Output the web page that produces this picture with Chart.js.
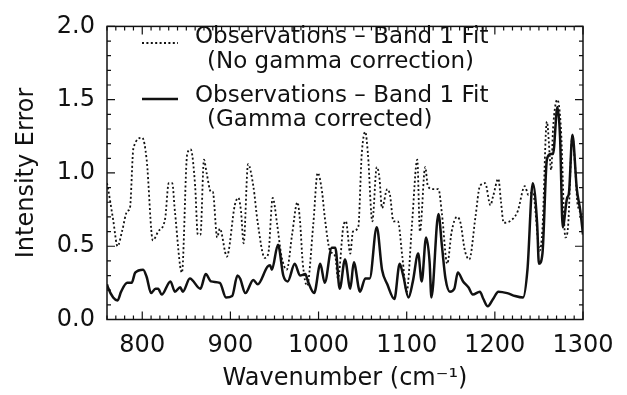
<!DOCTYPE html>
<html>
<head>
<meta charset="utf-8">
<script src="https://cdn.jsdelivr.net/npm/chart.js@4/dist/chart.umd.min.js"></script>
<style>
  html, body { margin: 0; padding: 0; background: #fff; }
  #wrap { width: 627px; height: 395px; }
</style>
</head>
<body>
<div id="wrap"><canvas id="c" width="627" height="395"></canvas></div>
<script>
// Residuals between observations and the Band 1 fit, without gamma correction
const noGammaWavenumber = [
  760, 761, 767, 772, 777, 783, 786, 790, 800, 805, 812, 818, 826, 830, 834, 837,
  845, 851, 855, 860, 863, 866, 870, 873, 878, 880, 885, 888, 896, 905, 909, 912,
  915, 920, 926, 931, 939, 943, 948, 953, 958, 964, 970, 976, 979, 982, 987, 994,
  999, 1004, 1007, 1013, 1019, 1022, 1028, 1031, 1036, 1039, 1045, 1049, 1053, 1056,
  1061, 1066, 1069, 1072, 1078, 1081, 1085, 1090, 1095, 1100, 1106, 1112, 1115, 1121,
  1124, 1130, 1136, 1140, 1146, 1151, 1157, 1161, 1166, 1171, 1178, 1183, 1189, 1195,
  1198, 1204, 1207, 1210, 1221, 1226, 1234, 1238, 1243, 1251, 1254, 1259, 1264, 1266,
  1271, 1275, 1280, 1283, 1288, 1291, 1294, 1300
];
const noGammaError = [
  0.93, 0.90, 0.68, 0.50, 0.60, 0.74, 0.76, 1.17, 1.24, 1.09, 0.54, 0.60, 0.69, 0.93, 0.93, 0.74,
  0.32, 1.13, 1.16, 0.91, 0.58, 0.58, 1.09, 1.00, 0.87, 0.87, 0.56, 0.62, 0.43, 0.78, 0.83, 0.74,
  0.52, 1.06, 0.91, 0.66, 0.42, 0.45, 0.83, 0.65, 0.43, 0.34, 0.58, 0.80, 0.67, 0.39, 0.23, 0.65,
  1.00, 0.87, 0.70, 0.47, 0.43, 0.28, 0.63, 0.67, 0.45, 0.60, 0.63, 1.13, 1.28, 1.13,
  0.67, 1.04, 0.97, 0.76, 0.89, 0.85, 0.67, 0.67, 0.43, 0.19, 0.65, 1.09, 0.60, 1.04,
  0.91, 0.89, 0.89, 0.72, 0.38, 0.60, 0.70, 0.66, 0.47, 0.41, 0.70, 0.91, 0.93, 0.78,
  0.84, 0.96, 0.80, 0.66, 0.69, 0.74, 0.91, 0.85, 0.87, 0.47, 0.62, 1.35, 1.02, 1.30,
  1.50, 1.30, 0.56, 0.63, 1.26, 1.05, 0.78, 0.72
];

// Residuals between observations and the Band 1 fit, gamma corrected
const gammaWavenumber = [
  760, 761, 767, 772, 776, 783, 788, 792, 801, 805, 810, 815, 818, 822, 832, 837,
  843, 846, 854, 866, 872, 878, 888, 895, 902, 908, 911, 917, 926, 931, 942, 945,
  947, 954, 960, 965, 973, 979, 985, 988, 995, 1002, 1007, 1015, 1019, 1024, 1030, 1036,
  1040, 1047, 1053, 1058, 1066, 1072, 1078, 1086, 1092, 1096, 1102, 1107, 1113, 1117,
  1122, 1126, 1128, 1136, 1140, 1144, 1149, 1154, 1158, 1164, 1170, 1175, 1183, 1187,
  1192, 1198, 1204, 1214, 1223, 1232, 1237, 1243, 1248, 1250, 1254, 1259, 1263, 1266,
  1271, 1274, 1277, 1282, 1284, 1288, 1293, 1297, 1300
];
const gammaError = [
  0.24, 0.22, 0.15, 0.13, 0.19, 0.25, 0.25, 0.32, 0.34, 0.29, 0.18, 0.21, 0.21, 0.17, 0.26, 0.19,
  0.22, 0.19, 0.28, 0.21, 0.31, 0.26, 0.25, 0.15, 0.16, 0.30, 0.28, 0.18, 0.27, 0.24, 0.36, 0.37,
  0.34, 0.51, 0.30, 0.26, 0.38, 0.30, 0.31, 0.26, 0.18, 0.38, 0.25, 0.49, 0.49, 0.21, 0.41, 0.21,
  0.39, 0.19, 0.28, 0.28, 0.63, 0.34, 0.24, 0.14, 0.38, 0.30, 0.15, 0.26, 0.45, 0.26,
  0.56, 0.39, 0.15, 0.72, 0.50, 0.28, 0.19, 0.21, 0.32, 0.26, 0.22, 0.17, 0.19, 0.14,
  0.09, 0.14, 0.19, 0.18, 0.16, 0.15, 0.34, 0.93, 0.65, 0.38, 0.45, 1.09, 1.13, 1.13,
  1.45, 1.24, 0.63, 0.83, 0.86, 1.26, 0.89, 0.74, 0.58
];

const noGammaLabel = ['Observations \u2013 Band 1 Fit', '(No gamma correction)'];
const gammaLabel = ['Observations \u2013 Band 1 Fit', '(Gamma corrected)'];

const xTickValues = [800, 900, 1000, 1100, 1200, 1300];
const yTickValues = [0.0, 0.5, 1.0, 1.5, 2.0];

const FONT = 'DejaVu Sans';
const INK = '#111';
const DOT_DASH = [2, 2.4];

function toPoints(xs, ys) {
  return xs.map((x, i) => ({ x: x, y: ys[i] }));
}

// Box frame with inward major/minor ticks on all four sides
const frameTicks = {
  id: 'frameTicks',
  afterDatasetsDraw(chart) {
    const { ctx, chartArea: a, scales: { x, y } } = chart;
    ctx.save();
    ctx.strokeStyle = INK;
    ctx.lineWidth = 1.5;
    ctx.strokeRect(a.left, a.top, a.right - a.left, a.bottom - a.top);
    ctx.lineWidth = 1.2;
    ctx.beginPath();
    for (let v = 760; v <= 1300; v += 10) {
      const px = x.getPixelForValue(v);
      const len = (v % 100 === 0) ? 8 : 4;
      ctx.moveTo(px, a.bottom); ctx.lineTo(px, a.bottom - len);
      ctx.moveTo(px, a.top); ctx.lineTo(px, a.top + len);
    }
    for (let k = 0; k <= 20; k++) {
      const py = y.getPixelForValue(k / 10);
      const len = (k % 5 === 0) ? 8 : 4;
      ctx.moveTo(a.left, py); ctx.lineTo(a.left + len, py);
      ctx.moveTo(a.right, py); ctx.lineTo(a.right - len, py);
    }
    ctx.stroke();
    ctx.restore();
  }
};

// Legend drawn inside the plot: line sample plus two text lines per series
const inPlotLegend = {
  id: 'inPlotLegend',
  afterDatasetsDraw(chart) {
    const { ctx } = chart;
    const rows = [
      { ds: chart.data.datasets[0], lineY: 43, textY: [37, 62] },
      { ds: chart.data.datasets[1], lineY: 99, textY: [96, 120] }
    ];
    ctx.save();
    ctx.fillStyle = INK;
    ctx.font = '23px "' + FONT + '"';
    ctx.textBaseline = 'middle';
    rows.forEach(r => {
      ctx.strokeStyle = INK;
      ctx.lineWidth = r.ds.borderWidth;
      ctx.setLineDash(r.ds.borderDash || []);
      ctx.beginPath();
      ctx.moveTo(142, r.lineY);
      ctx.lineTo(178, r.lineY);
      ctx.stroke();
      ctx.setLineDash([]);
      ctx.textAlign = 'left';
      ctx.fillText(r.ds.label[0], 195, r.textY[0]);
      ctx.fillText(r.ds.label[1], 207, r.textY[1]);
    });
    ctx.restore();
  }
};

new Chart(document.getElementById('c'), {
  type: 'line',
  data: {
    datasets: [
      {
        label: noGammaLabel,
        data: toPoints(noGammaWavenumber, noGammaError),
        borderColor: INK,
        borderWidth: 1.8,
        borderDash: DOT_DASH,
        pointRadius: 0,
        cubicInterpolationMode: 'monotone',
        fill: false
      },
      {
        label: gammaLabel,
        data: toPoints(gammaWavenumber, gammaError),
        borderColor: INK,
        borderWidth: 2.5,
        pointRadius: 0,
        cubicInterpolationMode: 'monotone',
        fill: false
      }
    ]
  },
  options: {
    responsive: false,
    animation: false,
    devicePixelRatio: 1,
    layout: { padding: { top: 13, right: 44, left: 0, bottom: 0 } },
    plugins: {
      legend: { display: false },
      tooltip: { enabled: false }
    },
    scales: {
      x: {
        type: 'linear',
        min: 760,
        max: 1300,
        grid: { display: false, drawTicks: false },
        border: { display: false },
        afterBuildTicks: s => { s.ticks = xTickValues.map(v => ({ value: v })); },
        afterFit: s => { s.height = 75.5; },
        ticks: {
          color: INK,
          padding: 12,
          maxRotation: 0,
          font: { family: FONT, size: 24 },
          callback: v => String(v)
        },
        title: {
          display: true,
          text: 'Wavenumber (cm\u207B\u00B9)',
          color: INK,
          font: { family: FONT, size: 24 },
          padding: { top: 2, bottom: 2 }
        }
      },
      y: {
        type: 'linear',
        min: 0,
        max: 2,
        grid: { display: false, drawTicks: false },
        border: { display: false },
        afterBuildTicks: s => { s.ticks = yTickValues.map(v => ({ value: v })); },
        afterFit: s => { s.width = 107; },
        ticks: {
          color: INK,
          padding: 12,
          font: { family: FONT, size: 24 },
          callback: v => Number(v).toFixed(1)
        },
        title: {
          display: true,
          text: 'Intensity Error',
          color: INK,
          font: { family: FONT, size: 24 },
          padding: { top: 12, bottom: 0 }
        }
      }
    }
  },
  plugins: [frameTicks, inPlotLegend]
});
</script>
</body>
</html>
